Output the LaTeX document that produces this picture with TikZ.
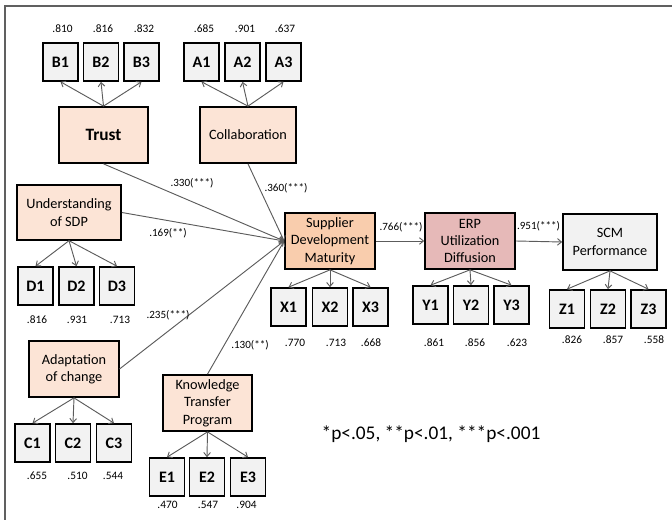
\documentclass[tikz,border=0pt]{standalone}
\usepackage{fontspec}
\setmainfont{Carlito}
\usetikzlibrary{arrows.meta}
\definecolor{latfill}{HTML}{FCE4D6}
\definecolor{sdmfill}{HTML}{F9CDAD}
\definecolor{erpfill}{HTML}{E6B9B8}
\definecolor{indfill}{HTML}{F2F2F2}
\definecolor{linkgray}{HTML}{5C5C5C}
\definecolor{framegray}{HTML}{606060}
\tikzset{
  lat/.style={draw, line width=1.3pt, fill=latfill, align=center, minimum width=67pt, minimum height=42pt, inner sep=1pt, font=\fontsize{10.7}{13}\selectfont},
  ind/.style={draw, line width=1.2pt, fill=indfill, minimum width=26.5pt, minimum height=28.5pt, inner sep=0pt, font=\bfseries\fontsize{12}{14}\selectfont},
  val/.style={inner sep=0pt, font=\fontsize{8.5}{9}\selectfont},
  coef/.style={inner sep=0pt, font=\fontsize{8.3}{9}\selectfont},
  link/.style={draw=linkgray, line width=0.7pt, ->}
}
\begin{document}
\begin{tikzpicture}[x=0.75pt, y=-0.75pt, >={Straight Barb[length=3pt,width=5pt]}]
  \useasboundingbox (0,0) rectangle (672,520);
  \draw[framegray, line width=1.3pt] (5,520) -- (5,6) -- (672,6);
  \node[lat, font=\bfseries\fontsize{13}{15}\selectfont] (trust) at (103.5,135) {Trust};
  \node[lat, minimum width=72pt] (collab) at (248,135) {Collaboration};
  \node[lat, minimum width=78pt, minimum height=41pt] (usdp) at (69,212.5) {Understanding\\of SDP};
  \node[lat] (adapt) at (74,369) {Adaptation\\of change};
  \node[lat] (ktp) at (207.5,403) {Knowledge\\Transfer\\Program};
  \node[lat, fill=sdmfill, minimum width=67.5pt] (sdm) at (330,241) {Supplier\\Development\\Maturity};
  \node[lat, fill=erpfill, minimum width=67.5pt] (erp) at (470,241) {ERP\\Utilization\\Diffusion};
  \node[lat, fill=indfill, minimum width=70.5pt] (scm) at (610,242) {SCM\\Performance};
  \foreach \n/\x/\vx/\val in {B1/60.5/62.5/.810, B2/101/103/.816, B3/141.5/144/.832}{
    \node[ind] (\n) at (\x,62) {\n};
    \node[val] (v\n) at (\vx,29) {\val};
    \draw[link] (trust.north) -- (\n.south);
  }
  \foreach \n/\x/\vx/\val in {A1/201.5/204/.685, A2/242.5/245/.901, A3/283.5/285/.637}{
    \node[ind] (\n) at (\x,62) {\n};
    \node[val] (v\n) at (\vx,29) {\val};
    \draw[link] (collab.north) -- (\n.south);
  }
  \foreach \n/\x/\vx/\val in {D1/35.5/37/.816, D2/76.5/77/.931, D3/117/120/.713}{
    \node[ind] (\n) at (\x,286) {\n};
    \node[val] (v\n) at (\vx,320) {\val};
    \draw[link] (usdp.south) -- (\n.north);
  }
  \foreach \n/\x/\vx/\val in {C1/32.5/37/.655, C2/73/77.5/.510, C3/114/113/.544}{
    \node[ind] (\n) at (\x,443) {\n};
    \node[val] (v\n) at (\vx,476) {\val};
    \draw[link] (adapt.south) -- (\n.north);
  }
  \foreach \n/\x/\vx/\val in {E1/167/167.5/.470, E2/207/208/.547, E3/248/246.5/.904}{
    \node[ind] (\n) at (\x,477) {\n};
    \node[val] (v\n) at (\vx,505) {\val};
    \draw[link] (ktp.south) -- (\n.north);
  }
  \foreach \n/\x/\vx/\val in {X1/288.5/295/.770, X2/330/336/.713, X3/370.5/371/.668}{
    \node[ind] (\n) at (\x,307) {\n};
    \node[val] (v\n) at (\vx,343) {\val};
    \draw[link] (sdm.south) -- (\n.north);
  }
  \foreach \n/\x/\vx/\val in {Y1/430.5/434/.861, Y2/471/475/.856, Y3/511.5/517/.623}{
    \node[ind] (\n) at (\x,305) {\n};
    \node[val] (v\n) at (\vx,343) {\val};
    \draw[link] (erp.south) -- (\n.north);
  }
  \foreach \n/\x/\vx/\val in {Z1/567/572/.826, Z2/608/613/.857, Z3/648.5/654/.558}{
    \node[ind] (\n) at (\x,309) {\n};
    \node[val] (v\n) at (\vx,340) {\val};
    \draw[link] (scm.south) -- (\n.north);
  }
  \draw[link] (trust.south) -- (sdm.west);
  \draw[link] (collab.south) -- (sdm.west);
  \draw[link] (usdp.east) -- (sdm.west);
  \draw[link] (adapt.east) -- (sdm.west);
  \draw[link] (ktp.north) -- (sdm.west);
  \draw[link] (sdm.east) -- (erp.west);
  \draw[link] (erp.east) -- (scm.west);
  \node[coef] (c330) at (192,183) {.330(***)};
  \node[coef] (c360) at (286,188) {.360(***)};
  \node[coef] (c169) at (168,233) {.169(**)};
  \node[coef] (c235) at (168,315) {.235(***)};
  \node[coef] (c130) at (250,345) {.130(**)};
  \node[coef] (c766) at (401,227) {.766(***)};
  \node[coef] (c951) at (538.5,226) {.951(***)};
  \node (legend) at (431,434) {\fontsize{14.5}{16}\selectfont *p<.05, **p<.01, ***p<.001};
\end{tikzpicture}
\end{document}
